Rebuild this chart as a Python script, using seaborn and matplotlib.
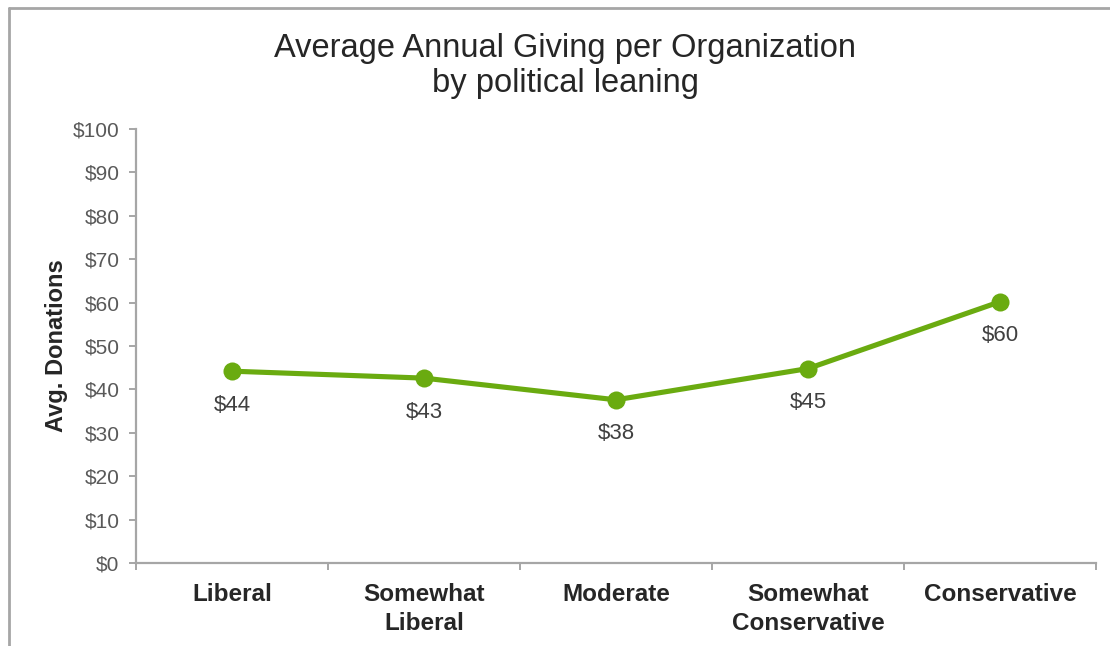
import matplotlib
matplotlib.use("Agg")
import matplotlib.pyplot as plt
from matplotlib.lines import Line2D
import pandas as pd
import seaborn as sns

# Average annual giving per organization, by political leaning
categories = ["Liberal", "Somewhat\nLiberal", "Moderate", "Somewhat\nConservative", "Conservative"]
avg_donations = [44.2, 42.6, 37.6, 44.8, 60.2]
value_labels = ["$44", "$43", "$38", "$45", "$60"]
y_ticks = [0, 10, 20, 30, 40, 50, 60, 70, 80, 90, 100]
y_tick_labels = ["$0", "$10", "$20", "$30", "$40", "$50", "$60", "$70", "$80", "$90", "$100"]

GREEN = "#6AAB10"
AXIS_GREY = "#A6A6A6"
TICK_TEXT = "#595959"
DARK_TEXT = "#262626"

sns.set_theme(style="white")
plt.rcParams["font.family"] = ["Liberation Sans", "DejaVu Sans"]

W, H = 1110, 646
fig = plt.figure(figsize=(W / 100, H / 100), dpi=100)
ax = fig.add_axes([136 / W, 1 - 563 / H, (1096 - 136) / W, (563 - 129) / H])

df = pd.DataFrame({"leaning": categories, "avg": avg_donations})
sns.lineplot(data=df, x="leaning", y="avg", sort=False, color=GREEN,
             linewidth=3.7, marker="o", markersize=13, markeredgewidth=0, ax=ax)

n = len(categories)
ax.set_xlim(-0.5, n - 0.5)
ax.set_ylim(y_ticks[0], y_ticks[-1])

# value labels under each point
for i, (v, lab) in enumerate(zip(avg_donations, value_labels)):
    ax.annotate(lab, (i, v), xytext=(0, -34), textcoords="offset pixels",
                ha="center", va="center", fontsize=16, color="#404040")

# spines
for side in ("top", "right"):
    ax.spines[side].set_visible(False)
for side in ("left", "bottom"):
    ax.spines[side].set_color(AXIS_GREY)
    ax.spines[side].set_linewidth(1.6)

# y axis
ax.set_yticks(y_ticks, y_tick_labels)
ax.tick_params(axis="y", which="major", direction="out", length=5, width=1.4,
               color=AXIS_GREY, labelsize=15, labelcolor=TICK_TEXT, pad=7, left=True)

# x axis: tick marks between categories, labels centred on categories
ax.set_xticks([i - 0.5 for i in range(n + 1)], [""] * (n + 1))
ax.set_xticks(list(range(n)), categories, minor=True)
ax.tick_params(axis="x", which="major", direction="out", length=5, width=1.4,
               color=AXIS_GREY, bottom=True)
ax.tick_params(axis="x", which="minor", length=0, pad=14.5, labelsize=17.5,
               labelcolor=DARK_TEXT)
for t in ax.get_xticklabels(minor=True):
    t.set_fontweight("bold")
    t.set_linespacing(1.35)

ax.set_xlabel("")
ax.set_ylabel("Avg. Donations", fontsize=17, fontweight="bold", color=DARK_TEXT, va="center")
ax.yaxis.set_label_coords((56 - 136) / 960, 0.5)
ax.grid(False)

# title
fig.text(565 / W, 1 - 57 / H, "Average Annual Giving per Organization",
         ha="center", va="baseline", fontsize=23.5, color=DARK_TEXT)
fig.text(565 / W, 1 - 92 / H, "by political leaning",
         ha="center", va="baseline", fontsize=23.5, color=DARK_TEXT)

# chart frame (top and left edges)
fig.add_artist(Line2D([9 / W, 1.02], [1 - 8 / H, 1 - 8 / H], transform=fig.transFigure,
                      color=AXIS_GREY, linewidth=2))
fig.add_artist(Line2D([9 / W, 9 / W], [-0.02, 1 - 8 / H], transform=fig.transFigure,
                      color=AXIS_GREY, linewidth=2))

fig.savefig("out.png", dpi=100, facecolor="white")
